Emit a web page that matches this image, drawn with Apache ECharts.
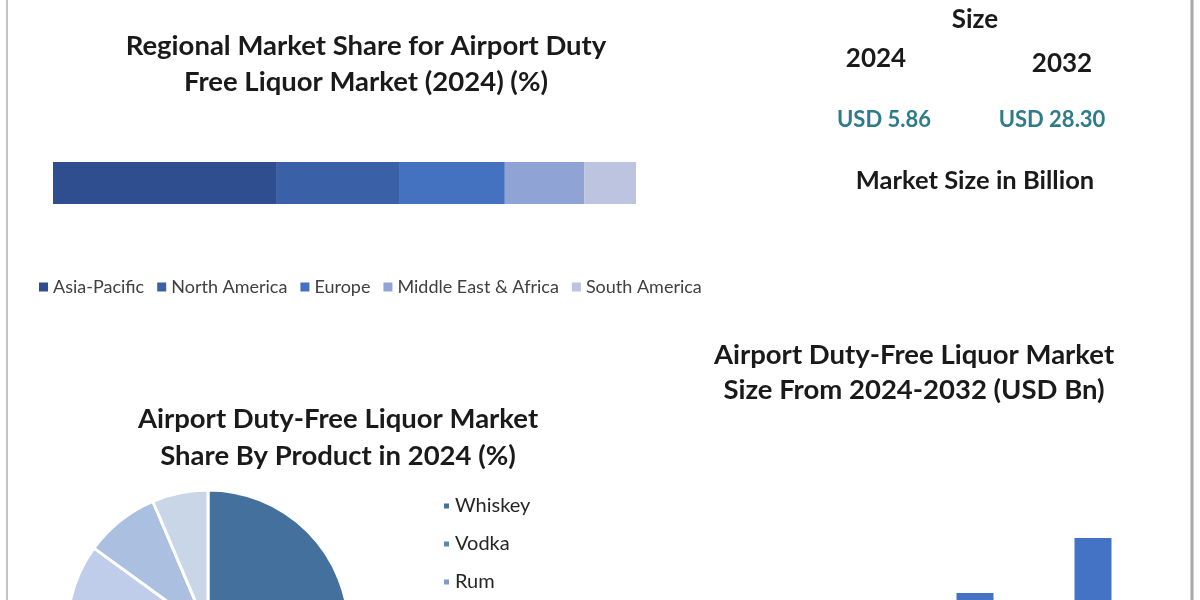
<!DOCTYPE html>
<html>
<head>
<meta charset="utf-8">
<script src="https://cdn.jsdelivr.net/npm/echarts@6/dist/echarts.min.js"></script>
<style>
html,body{margin:0;padding:0;background:#fff;}
#c{width:1200px;height:600px;}
</style>
</head>
<body>
<div id="c"></div>
<script>
// Regional share (stacked bar)
const regions = ['Asia-Pacific', 'North America', 'Europe', 'Middle East & Africa', 'South America'];
const regionShare = [38.4, 21.1, 18.0, 13.6, 8.9];
const regionColors = ['#2f4e8f', '#3a61a8', '#4471c0', '#8fa3d5', '#bcc4e0'];

// Product share (pie)
const products = ['Whiskey', 'Vodka', 'Rum', 'Gin', 'Tequila', 'Others'];
const productShare = [38, 20, 14, 13, 8.6, 6.4];
const productColors = ['#43709c', '#5b86b8', '#7d9ccb', '#bfcdea', '#abbfe0', '#c9d6e8'];

// Market size (bar)
const years = ['2024', '2027', '2030', '2032'];
const marketSize = [5.86, 10.6, 19.1, 28.30];

// Headline figures
const headlineYears = ['2024', '2032'];
const headlineValues = ['USD 5.86', 'USD 28.30'];

const chart = echarts.init(document.getElementById('c'), null, {renderer: 'canvas'});

const FAM = 'Lato, "Noto Sans", sans-serif';
const titleFont = 'bold 27.5px ' + FAM;
const dark = '#1a1a1a';

function txt(text, x, y, font, fill) {
  return {type: 'text', x: x, y: y, style: {text: text, font: font, fill: fill || dark, textAlign: 'center', textVerticalAlign: 'middle'}};
}

const stackSeries = regions.map((r, i) => ({
  name: r,
  type: 'bar',
  stack: 'share',
  xAxisIndex: 0,
  yAxisIndex: 0,
  barWidth: '100%',
  itemStyle: {color: regionColors[i]},
  data: [regionShare[i]]
}));

chart.setOption({
  animation: false,
  backgroundColor: '#ffffff',
  grid: [
    {left: 53, top: 162, width: 583, height: 42, outerBoundsMode: 'none', containLabel: false},
    {left: 680, top: 480, width: 472, height: 227, outerBoundsMode: 'none', containLabel: false}
  ],
  xAxis: [
    {gridIndex: 0, type: 'value', min: 0, max: 100, show: false},
    {gridIndex: 1, type: 'category', data: years, show: false}
  ],
  yAxis: [
    {gridIndex: 0, type: 'category', data: ['2024'], show: false},
    {gridIndex: 1, type: 'value', min: 0, max: 38, show: false, splitLine: {show: false}}
  ],
  legend: [
    {
      data: regions,
      left: 34, top: 273,
      itemWidth: 9, itemHeight: 9, itemGap: 13,
      icon: 'rect',
      textStyle: {fontSize: 18, color: '#404040', fontFamily: FAM}
    },
    {
      data: products,
      orient: 'horizontal',
      left: 437, top: 491,
      width: 90,
      itemWidth: 7, itemHeight: 7, itemGap: 18,
      icon: 'rect',
      textStyle: {fontSize: 20, color: '#262626', fontFamily: FAM}
    }
  ],
  series: stackSeries.concat([
    {
      name: 'Product share',
      type: 'pie',
      center: [208, 631],
      radius: 141,
      startAngle: 90,
      clockwise: true,
      label: {show: false},
      labelLine: {show: false},
      itemStyle: {borderColor: '#ffffff', borderWidth: 3},
      data: products.map((p, i) => ({name: p, value: productShare[i], itemStyle: {color: productColors[i]}}))
    },
    {
      name: 'Market size',
      type: 'bar',
      xAxisIndex: 1,
      yAxisIndex: 1,
      barWidth: 37,
      itemStyle: {color: '#4472c4'},
      data: marketSize
    }
  ]),
  graphic: [
    {type: 'line', shape: {x1: 7, y1: 0, x2: 7, y2: 600}, style: {stroke: '#c4c4c4', lineWidth: 2}},
    {type: 'line', shape: {x1: 1192, y1: 0, x2: 1192, y2: 600}, style: {stroke: '#a6a6a6', lineWidth: 3}},
    txt('Regional Market Share for Airport Duty', 366, 46, titleFont),
    txt('Free Liquor Market (2024) (%)', 366, 82, titleFont),
    txt('Size', 975, 20, 'bold 26px ' + FAM),
    txt(headlineYears[0], 876, 59, 'bold 26px ' + FAM),
    txt(headlineYears[1], 1062, 64, 'bold 26px ' + FAM),
    txt(headlineValues[0], 884, 120, 'bold 22px ' + FAM, '#2e7b89'),
    txt(headlineValues[1], 1052, 120, 'bold 22px ' + FAM, '#2e7b89'),
    txt('Market Size in Billion', 975, 181, 'bold 25.5px ' + FAM),
    txt('Airport Duty-Free Liquor Market', 914, 355, titleFont),
    txt('Size From 2024-2032 (USD Bn)', 914, 390, titleFont),
    txt('Airport Duty-Free Liquor Market', 338, 419, titleFont),
    txt('Share By Product in 2024 (%)', 338, 456, titleFont)
  ]
});
</script>
</body>
</html>
